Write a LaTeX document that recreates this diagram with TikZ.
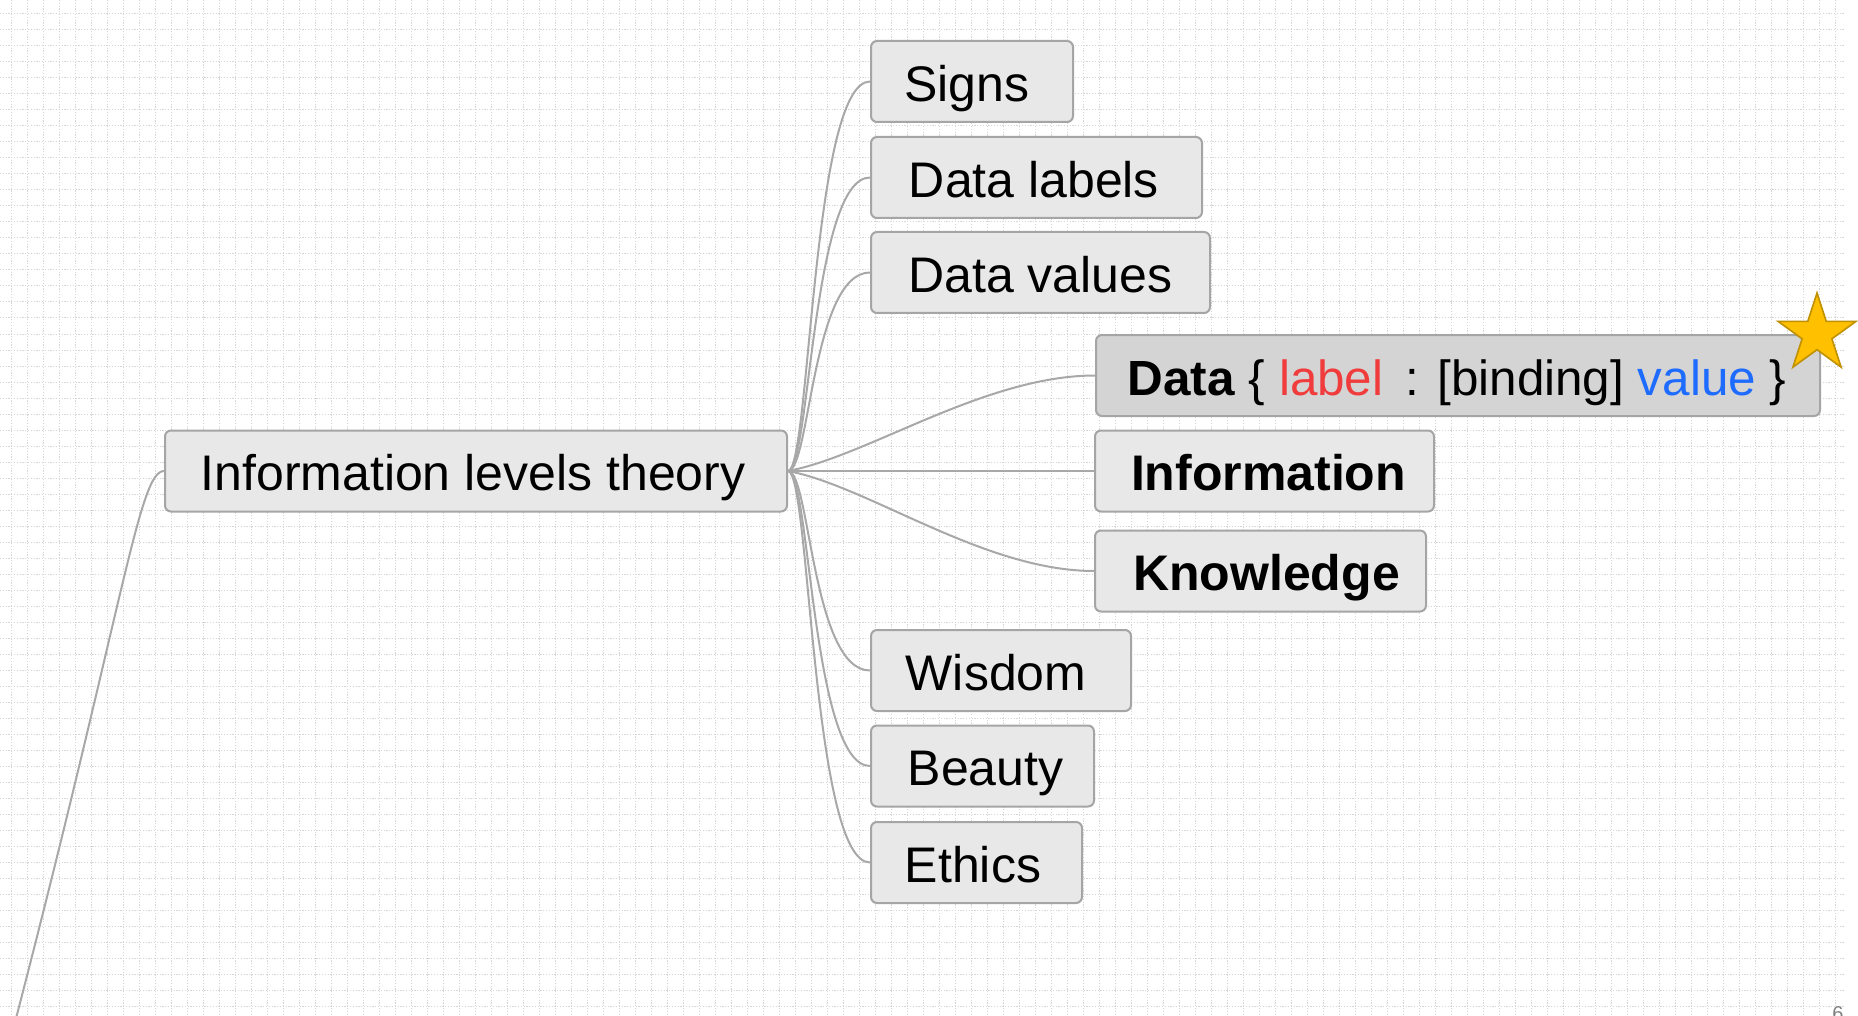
\documentclass[tikz,border=0pt]{standalone}
\usepackage{fontspec}
\setmainfont{Liberation Sans}
\usetikzlibrary{shapes.geometric}
\definecolor{gridc}{HTML}{D6D6D6}
\definecolor{boxfill}{HTML}{E8E8E8}
\definecolor{boxfilldark}{HTML}{D4D4D4}
\definecolor{boxline}{HTML}{A5A5A5}
\definecolor{linkc}{HTML}{A8A8A8}
\definecolor{lblred}{HTML}{F03C3C}
\definecolor{valblue}{HTML}{1E6BFF}
\definecolor{starfill}{HTML}{FFC000}
\definecolor{starline}{HTML}{BF9000}
\definecolor{pagec}{HTML}{808080}
\begin{document}
\begin{tikzpicture}[x=0.5pt,y=-0.5pt,
  topic/.style={draw=boxline, fill=boxfill, line width=1pt, rounded corners=3pt,
    inner sep=0pt, minimum height=40.5pt, text height=19.8pt, text depth=0pt,
    font=\fontsize{25}{30}\selectfont},
  link/.style={draw=linkc, line width=1pt},
  gridline/.style={draw=gridc, line width=0.5pt, dash pattern=on 0.6pt off 0.8pt}]
\useasboundingbox (0,0) rectangle (1858,1016);
\clip (0,0) rectangle (1858,1016);
\fill[white] (0,0) rectangle (1858,1016);
\foreach \gx in {11.7,27.7,...,1845} \draw[gridline] (\gx,0) -- (\gx,1016);
\foreach \gy in {14,30,...,1016} \draw[gridline] (0,\gy) -- (1845,\gy);

% nodes
\node[topic, minimum width=311pt] (root) at (476,471) {Information levels theory\kern3pt};
\node[topic, minimum width=101pt] (signs) at (972,81.5) {Signs\kern5pt};
\node[topic, minimum width=165.5pt] (dlabels) at (1036.5,177.5) {Data labels\kern2.5pt};
\node[topic, minimum width=169.5pt] (dvalues) at (1040.5,272.5) {Data values};
\node[topic, fill=boxfilldark, minimum width=362pt, font=\fontsize{24.7}{30}\selectfont] (data) at (1458,375.5)
  {\textbf{Data} \{ \textcolor{lblred}{label} \,: [binding] \textcolor{valblue}{value} \}\kern1pt};
\node[topic, minimum width=169.5pt] (info) at (1264.5,471) {\kern4pt\textbf{Information}};
\node[topic, minimum width=165.5pt] (know) at (1260.5,571) {\kern6pt\textbf{Knowledge}};
\node[topic, minimum width=130pt] (wisdom) at (1001,670.5) {Wisdom\kern5pt};
\node[topic, minimum width=111.5pt] (beauty) at (982.5,766) {\kern3pt Beauty};
\node[topic, minimum width=105.5pt] (ethics) at (976.5,862.5) {Ethics\kern3.5pt};

\node[star, star points=5, star point ratio=2.618, fill=starfill, draw=starline,
  line width=0.8pt, minimum size=41pt, inner sep=0pt] (star) at (1817,334) {};

\node[anchor=north west, inner sep=0pt, text=pagec, font=\fontsize{10}{12}\selectfont]
  (pnum) at (1832,1006) {6};

% connectors
\coordinate (bot) at (13,1030);
\draw[link] (root.west) .. controls +(-25,0) and (125,600) .. (bot);
\foreach \n in {signs,dlabels,dvalues,wisdom,beauty,ethics}
  \draw[link] (root.east) .. controls +(22,0) and +(-58,0) .. (\n.west);
\draw[link] (root.east) .. controls +(80,-15) and +(-110,0) .. (data.west);
\draw[link] (root.east) -- (info.west);
\draw[link] (root.east) .. controls +(80,15) and +(-110,0) .. (know.west);
\end{tikzpicture}
\end{document}
